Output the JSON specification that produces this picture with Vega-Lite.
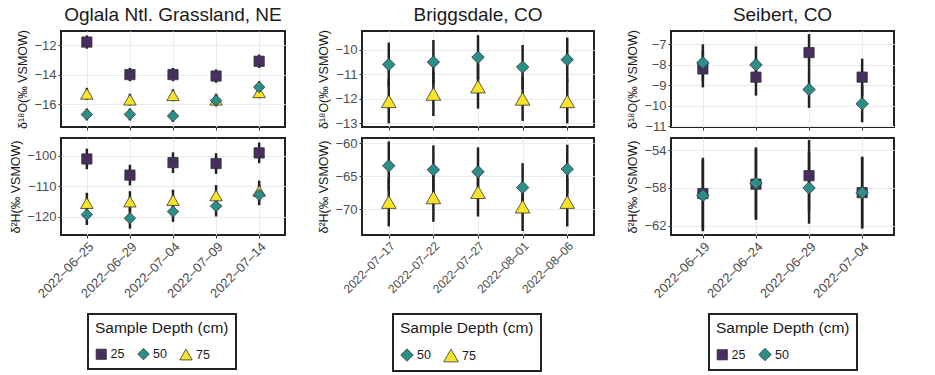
{
  "$schema": "https://vega.github.io/schema/vega-lite/v6.json",
  "padding": {"left": 8, "top": 5, "right": 5, "bottom": 0},
  "datasets": {
    "iso": [
      {"site": "Oglala", "iso": "O", "date": "2022-06-25", "depth": "25", "mean": -11.8, "sd": 0.45},
      {"site": "Oglala", "iso": "O", "date": "2022-06-29", "depth": "25", "mean": -14.0, "sd": 0.45},
      {"site": "Oglala", "iso": "O", "date": "2022-07-04", "depth": "25", "mean": -14.0, "sd": 0.45},
      {"site": "Oglala", "iso": "O", "date": "2022-07-09", "depth": "25", "mean": -14.1, "sd": 0.45},
      {"site": "Oglala", "iso": "O", "date": "2022-07-14", "depth": "25", "mean": -13.1, "sd": 0.45},
      {"site": "Oglala", "iso": "O", "date": "2022-06-25", "depth": "75", "mean": -15.3, "sd": 0.4},
      {"site": "Oglala", "iso": "O", "date": "2022-06-29", "depth": "75", "mean": -15.7, "sd": 0.4},
      {"site": "Oglala", "iso": "O", "date": "2022-07-04", "depth": "75", "mean": -15.4, "sd": 0.4},
      {"site": "Oglala", "iso": "O", "date": "2022-07-09", "depth": "75", "mean": -15.7, "sd": 0.4},
      {"site": "Oglala", "iso": "O", "date": "2022-07-14", "depth": "75", "mean": -15.2, "sd": 0.4},
      {"site": "Oglala", "iso": "O", "date": "2022-06-25", "depth": "50", "mean": -16.7, "sd": 0.4},
      {"site": "Oglala", "iso": "O", "date": "2022-06-29", "depth": "50", "mean": -16.7, "sd": 0.4},
      {"site": "Oglala", "iso": "O", "date": "2022-07-04", "depth": "50", "mean": -16.8, "sd": 0.4},
      {"site": "Oglala", "iso": "O", "date": "2022-07-09", "depth": "50", "mean": -15.75, "sd": 0.4},
      {"site": "Oglala", "iso": "O", "date": "2022-07-14", "depth": "50", "mean": -14.85, "sd": 0.4},
      {"site": "Oglala", "iso": "H", "date": "2022-06-25", "depth": "25", "mean": -101.0, "sd": 3.4},
      {"site": "Oglala", "iso": "H", "date": "2022-06-29", "depth": "25", "mean": -106.3, "sd": 3.4},
      {"site": "Oglala", "iso": "H", "date": "2022-07-04", "depth": "25", "mean": -102.2, "sd": 3.4},
      {"site": "Oglala", "iso": "H", "date": "2022-07-09", "depth": "25", "mean": -102.5, "sd": 3.4},
      {"site": "Oglala", "iso": "H", "date": "2022-07-14", "depth": "25", "mean": -99.0, "sd": 3.4},
      {"site": "Oglala", "iso": "H", "date": "2022-06-25", "depth": "75", "mean": -115.5, "sd": 3.4},
      {"site": "Oglala", "iso": "H", "date": "2022-06-29", "depth": "75", "mean": -115.0, "sd": 3.4},
      {"site": "Oglala", "iso": "H", "date": "2022-07-04", "depth": "75", "mean": -114.5, "sd": 3.4},
      {"site": "Oglala", "iso": "H", "date": "2022-07-09", "depth": "75", "mean": -113.0, "sd": 3.4},
      {"site": "Oglala", "iso": "H", "date": "2022-07-14", "depth": "75", "mean": -111.5, "sd": 3.4},
      {"site": "Oglala", "iso": "H", "date": "2022-06-25", "depth": "50", "mean": -119.3, "sd": 3.4},
      {"site": "Oglala", "iso": "H", "date": "2022-06-29", "depth": "50", "mean": -120.5, "sd": 3.4},
      {"site": "Oglala", "iso": "H", "date": "2022-07-04", "depth": "50", "mean": -118.3, "sd": 3.4},
      {"site": "Oglala", "iso": "H", "date": "2022-07-09", "depth": "50", "mean": -116.5, "sd": 3.4},
      {"site": "Oglala", "iso": "H", "date": "2022-07-14", "depth": "50", "mean": -112.8, "sd": 3.4},
      {"site": "Briggsdale", "iso": "O", "date": "2022-07-17", "depth": "75", "mean": -12.1, "sd": 0.9},
      {"site": "Briggsdale", "iso": "O", "date": "2022-07-22", "depth": "75", "mean": -11.8, "sd": 0.9},
      {"site": "Briggsdale", "iso": "O", "date": "2022-07-27", "depth": "75", "mean": -11.5, "sd": 0.9},
      {"site": "Briggsdale", "iso": "O", "date": "2022-08-01", "depth": "75", "mean": -12.0, "sd": 0.9},
      {"site": "Briggsdale", "iso": "O", "date": "2022-08-06", "depth": "75", "mean": -12.1, "sd": 0.9},
      {"site": "Briggsdale", "iso": "O", "date": "2022-07-17", "depth": "50", "mean": -10.6, "sd": 0.9},
      {"site": "Briggsdale", "iso": "O", "date": "2022-07-22", "depth": "50", "mean": -10.5, "sd": 0.9},
      {"site": "Briggsdale", "iso": "O", "date": "2022-07-27", "depth": "50", "mean": -10.3, "sd": 0.9},
      {"site": "Briggsdale", "iso": "O", "date": "2022-08-01", "depth": "50", "mean": -10.7, "sd": 0.9},
      {"site": "Briggsdale", "iso": "O", "date": "2022-08-06", "depth": "50", "mean": -10.4, "sd": 0.9},
      {"site": "Briggsdale", "iso": "H", "date": "2022-07-17", "depth": "75", "mean": -68.9, "sd": 3.7},
      {"site": "Briggsdale", "iso": "H", "date": "2022-07-22", "depth": "75", "mean": -68.2, "sd": 3.7},
      {"site": "Briggsdale", "iso": "H", "date": "2022-07-27", "depth": "75", "mean": -67.4, "sd": 3.7},
      {"site": "Briggsdale", "iso": "H", "date": "2022-08-01", "depth": "75", "mean": -69.6, "sd": 3.7},
      {"site": "Briggsdale", "iso": "H", "date": "2022-08-06", "depth": "75", "mean": -68.9, "sd": 3.7},
      {"site": "Briggsdale", "iso": "H", "date": "2022-07-17", "depth": "50", "mean": -63.4, "sd": 3.7},
      {"site": "Briggsdale", "iso": "H", "date": "2022-07-22", "depth": "50", "mean": -64.0, "sd": 3.7},
      {"site": "Briggsdale", "iso": "H", "date": "2022-07-27", "depth": "50", "mean": -64.3, "sd": 3.7},
      {"site": "Briggsdale", "iso": "H", "date": "2022-08-01", "depth": "50", "mean": -66.7, "sd": 3.7},
      {"site": "Briggsdale", "iso": "H", "date": "2022-08-06", "depth": "50", "mean": -63.9, "sd": 3.7},
      {"site": "Seibert", "iso": "O", "date": "2022-06-19", "depth": "25", "mean": -8.2, "sd": 0.9},
      {"site": "Seibert", "iso": "O", "date": "2022-06-24", "depth": "25", "mean": -8.6, "sd": 0.9},
      {"site": "Seibert", "iso": "O", "date": "2022-06-29", "depth": "25", "mean": -7.4, "sd": 0.9},
      {"site": "Seibert", "iso": "O", "date": "2022-07-04", "depth": "25", "mean": -8.6, "sd": 0.9},
      {"site": "Seibert", "iso": "O", "date": "2022-06-19", "depth": "50", "mean": -7.9, "sd": 0.9},
      {"site": "Seibert", "iso": "O", "date": "2022-06-24", "depth": "50", "mean": -8.0, "sd": 0.9},
      {"site": "Seibert", "iso": "O", "date": "2022-06-29", "depth": "50", "mean": -9.2, "sd": 0.9},
      {"site": "Seibert", "iso": "O", "date": "2022-07-04", "depth": "50", "mean": -9.9, "sd": 0.9},
      {"site": "Seibert", "iso": "H", "date": "2022-06-19", "depth": "25", "mean": -58.6, "sd": 3.8},
      {"site": "Seibert", "iso": "H", "date": "2022-06-24", "depth": "25", "mean": -57.6, "sd": 3.8},
      {"site": "Seibert", "iso": "H", "date": "2022-06-29", "depth": "25", "mean": -56.7, "sd": 3.8},
      {"site": "Seibert", "iso": "H", "date": "2022-07-04", "depth": "25", "mean": -58.5, "sd": 3.8},
      {"site": "Seibert", "iso": "H", "date": "2022-06-19", "depth": "50", "mean": -58.8, "sd": 3.8},
      {"site": "Seibert", "iso": "H", "date": "2022-06-24", "depth": "50", "mean": -57.5, "sd": 3.8},
      {"site": "Seibert", "iso": "H", "date": "2022-06-29", "depth": "50", "mean": -58.0, "sd": 3.8},
      {"site": "Seibert", "iso": "H", "date": "2022-07-04", "depth": "50", "mean": -58.5, "sd": 3.8}
    ]
  },
  "data": {"name": "iso"},
  "spacing": 1,
  "resolve": {"scale": {"color": "independent", "shape": "independent", "size": "independent"}, "legend": {"color": "independent", "shape": "independent", "size": "independent"}},
  "vconcat": [
    {
      "bounds": "flush",
      "spacing": 77,
      "resolve": {"scale": {"color": "independent", "shape": "independent", "size": "independent"}, "legend": {"color": "independent", "shape": "independent", "size": "independent"}},
      "hconcat": [
        {
          "width": 224, "height": 96,
          "title": "Oglala Ntl. Grassland, NE",
          "transform": [{"filter": "datum.site === 'Oglala' && datum.iso === 'O'"}],
          "encoding": {
            "x": {"field": "date", "type": "ordinal", "scale": {"type": "point", "padding": 0.6}, "axis": {"labels": false, "title": null, "grid": true}},
            "y": {"field": "mean", "type": "quantitative", "scale": {"domain": [-17.55, -11.05], "nice": false, "zero": false}, "axis": {"values": [-16, -14, -12], "labelOverlap": false, "title": "δ¹⁸O(‰ VSMOW)"}}
          },
          "layer": [
            {"mark": {"type": "errorbar", "thickness": 2.5, "color": "#222", "ticks": false}, "encoding": {"yError": {"field": "sd"}}},
            {"mark": {"type": "point", "filled": true, "stroke": "#333", "strokeWidth": 0.8, "opacity": 1},
             "encoding": {
               "color": {"field": "depth", "type": "nominal", "scale": {"domain": ["25", "50", "75"], "range": ["#482E5F", "#2C8E89", "#F9E328"]}, "legend": null},
               "shape": {"field": "depth", "type": "nominal", "scale": {"domain": ["25", "50", "75"], "range": ["square", "diamond", "triangle-up"]}, "legend": null},
               "size": {"field": "depth", "type": "nominal", "scale": {"domain": ["25", "50", "75"], "range": [105, 155, 215]}, "legend": null}}}
          ]
        },
        {
          "width": 232, "height": 96,
          "title": "Briggsdale, CO",
          "transform": [{"filter": "datum.site === 'Briggsdale' && datum.iso === 'O'"}],
          "encoding": {
            "x": {"field": "date", "type": "ordinal", "scale": {"type": "point", "padding": 0.6}, "axis": {"labels": false, "title": null, "grid": true}},
            "y": {"field": "mean", "type": "quantitative", "scale": {"domain": [-13.15, -9.23], "nice": false, "zero": false}, "axis": {"values": [-13, -12, -11, -10], "labelOverlap": false, "title": "δ¹⁸O(‰ VSMOW)"}}
          },
          "layer": [
            {"mark": {"type": "errorbar", "thickness": 2.5, "color": "#222", "ticks": false}, "encoding": {"yError": {"field": "sd"}}},
            {"mark": {"type": "point", "filled": true, "stroke": "#333", "strokeWidth": 0.8, "opacity": 1},
             "encoding": {
               "color": {"field": "depth", "type": "nominal", "scale": {"domain": ["50", "75"], "range": ["#2C8E89", "#F9E328"]}, "legend": null},
               "shape": {"field": "depth", "type": "nominal", "scale": {"domain": ["50", "75"], "range": ["diamond", "triangle-up"]}, "legend": null},
               "size": {"field": "depth", "type": "nominal", "scale": {"domain": ["50", "75"], "range": [155, 215]}, "legend": null}}}
          ]
        },
        {
          "width": 223, "height": 96,
          "title": "Seibert, CO",
          "transform": [{"filter": "datum.site === 'Seibert' && datum.iso === 'O'"}],
          "encoding": {
            "x": {"field": "date", "type": "ordinal", "scale": {"type": "point", "padding": 0.6}, "axis": {"labels": false, "title": null, "grid": true}},
            "y": {"field": "mean", "type": "quantitative", "scale": {"domain": [-11.03, -6.35], "nice": false, "zero": false}, "axis": {"values": [-11, -10, -9, -8, -7], "labelOverlap": false, "title": "δ¹⁸O(‰ VSMOW)"}}
          },
          "layer": [
            {"mark": {"type": "errorbar", "thickness": 2.5, "color": "#222", "ticks": false}, "encoding": {"yError": {"field": "sd"}}},
            {"mark": {"type": "point", "filled": true, "stroke": "#333", "strokeWidth": 0.8, "opacity": 1},
             "encoding": {
               "color": {"field": "depth", "type": "nominal", "scale": {"domain": ["25", "50"], "range": ["#482E5F", "#2C8E89"]}, "legend": null},
               "shape": {"field": "depth", "type": "nominal", "scale": {"domain": ["25", "50"], "range": ["square", "diamond"]}, "legend": null},
               "size": {"field": "depth", "type": "nominal", "scale": {"domain": ["25", "50"], "range": [105, 155]}, "legend": null}}}
          ]
        }
      ]
    },
    {
      "bounds": "flush",
      "spacing": 77,
      "resolve": {"scale": {"color": "independent", "shape": "independent", "size": "independent"}, "legend": {"color": "independent", "shape": "independent", "size": "independent"}},
      "hconcat": [
        {
          "width": 224, "height": 97,
          "transform": [{"filter": "datum.site === 'Oglala' && datum.iso === 'H'"}],
          "encoding": {
            "x": {"field": "date", "type": "ordinal", "scale": {"type": "point", "padding": 0.6}, "axis": {"title": null, "grid": true, "labelAngle": -45, "labelAlign": "right", "labelBaseline": "top", "labelFontSize": 13, "labelExpr": "replace(replace(datum.label, '-', '–'), '-', '–')"}},
            "y": {"field": "mean", "type": "quantitative", "scale": {"domain": [-126, -94.1], "nice": false, "zero": false}, "axis": {"values": [-120, -110, -100], "labelOverlap": false, "title": "δ²H(‰ VSMOW)"}}
          },
          "layer": [
            {"mark": {"type": "errorbar", "thickness": 2.5, "color": "#222", "ticks": false}, "encoding": {"yError": {"field": "sd"}}},
            {"mark": {"type": "point", "filled": true, "stroke": "#333", "strokeWidth": 0.8, "opacity": 1},
             "encoding": {
               "color": {"field": "depth", "type": "nominal", "scale": {"domain": ["25", "50", "75"], "range": ["#482E5F", "#2C8E89", "#F9E328"]}, "legend": {"title": "Sample Depth (cm)", "legendX": 27, "legendY": 176}},
               "shape": {"field": "depth", "type": "nominal", "scale": {"domain": ["25", "50", "75"], "range": ["square", "diamond", "triangle-up"]}, "legend": {"title": "Sample Depth (cm)", "legendX": 27, "legendY": 176}},
               "size": {"field": "depth", "type": "nominal", "scale": {"domain": ["25", "50", "75"], "range": [105, 155, 215]}, "legend": {"title": "Sample Depth (cm)", "legendX": 27, "legendY": 176}}}}
          ]
        },
        {
          "width": 232, "height": 97,
          "transform": [{"filter": "datum.site === 'Briggsdale' && datum.iso === 'H'"}],
          "encoding": {
            "x": {"field": "date", "type": "ordinal", "scale": {"type": "point", "padding": 0.6}, "axis": {"title": null, "grid": true, "labelAngle": -45, "labelAlign": "right", "labelBaseline": "top", "labelFontSize": 12, "labelExpr": "replace(replace(datum.label, '-', '–'), '-', '–')"}},
            "y": {"field": "mean", "type": "quantitative", "scale": {"domain": [-73.9, -59.18], "nice": false, "zero": false}, "axis": {"values": [-70, -65, -60], "labelOverlap": false, "title": "δ²H(‰ VSMOW)"}}
          },
          "layer": [
            {"mark": {"type": "errorbar", "thickness": 2.5, "color": "#222", "ticks": false}, "encoding": {"yError": {"field": "sd"}}},
            {"mark": {"type": "point", "filled": true, "stroke": "#333", "strokeWidth": 0.8, "opacity": 1},
             "encoding": {
               "color": {"field": "depth", "type": "nominal", "scale": {"domain": ["50", "75"], "range": ["#2C8E89", "#F9E328"]}, "legend": {"title": "Sample Depth (cm)", "legendX": 31, "legendY": 176}},
               "shape": {"field": "depth", "type": "nominal", "scale": {"domain": ["50", "75"], "range": ["diamond", "triangle-up"]}, "legend": {"title": "Sample Depth (cm)", "legendX": 31, "legendY": 176}},
               "size": {"field": "depth", "type": "nominal", "scale": {"domain": ["50", "75"], "range": [155, 215]}, "legend": {"title": "Sample Depth (cm)", "legendX": 31, "legendY": 176}}}}
          ]
        },
        {
          "width": 223, "height": 97,
          "transform": [{"filter": "datum.site === 'Seibert' && datum.iso === 'H'"}],
          "encoding": {
            "x": {"field": "date", "type": "ordinal", "scale": {"type": "point", "padding": 0.6}, "axis": {"title": null, "grid": true, "labelAngle": -45, "labelAlign": "right", "labelBaseline": "top", "labelFontSize": 13, "labelExpr": "replace(replace(datum.label, '-', '–'), '-', '–')"}},
            "y": {"field": "mean", "type": "quantitative", "scale": {"domain": [-63.0, -52.7], "nice": false, "zero": false}, "axis": {"values": [-62, -58, -54], "labelOverlap": false, "title": "δ²H(‰ VSMOW)"}}
          },
          "layer": [
            {"mark": {"type": "errorbar", "thickness": 2.5, "color": "#222", "ticks": false}, "encoding": {"yError": {"field": "sd"}}},
            {"mark": {"type": "point", "filled": true, "stroke": "#333", "strokeWidth": 0.8, "opacity": 1},
             "encoding": {
               "color": {"field": "depth", "type": "nominal", "scale": {"domain": ["25", "50"], "range": ["#482E5F", "#2C8E89"]}, "legend": {"title": "Sample Depth (cm)", "legendX": 38, "legendY": 176}},
               "shape": {"field": "depth", "type": "nominal", "scale": {"domain": ["25", "50"], "range": ["square", "diamond"]}, "legend": {"title": "Sample Depth (cm)", "legendX": 38, "legendY": 176}},
               "size": {"field": "depth", "type": "nominal", "scale": {"domain": ["25", "50"], "range": [105, 155]}, "legend": {"title": "Sample Depth (cm)", "legendX": 38, "legendY": 176}}}}
          ]
        }
      ]
    }
  ],
  "config": {
    "font": "Liberation Sans",
    "view": {"stroke": "#222", "strokeWidth": 2},
    "axis": {"domain": false, "labelOverlap": false, "gridColor": "#EBEBEB", "gridWidth": 1.2, "tickColor": "#333", "tickSize": 3, "tickWidth": 1, "labelColor": "#4D4D4D", "labelFont": "Liberation Sans", "labelFontSize": 13, "labelPadding": 2, "titleFont": "Liberation Sans", "titleFontSize": 12.5, "titleFontWeight": "normal", "titleColor": "#1a1a1a", "titlePadding": 4},
    "axisY": {"labelOverlap": false},
    "legend": {"orient": "none", "direction": "horizontal", "strokeColor": "#222", "strokeWidth": 2, "padding": 7, "titleFont": "Liberation Sans", "titleFontSize": 15.5, "titleFontWeight": "normal", "titleColor": "#1a1a1a", "titlePadding": 11, "labelFont": "Liberation Sans", "labelFontSize": 12.5, "labelColor": "#1a1a1a", "symbolStrokeColor": "#333", "symbolStrokeWidth": 0.8, "columnPadding": 11, "labelOffset": 3},
    "title": {"font": "Liberation Sans", "fontSize": 19, "fontWeight": "normal", "color": "#1a1a1a", "anchor": "middle", "frame": "group", "offset": 0}
  }
}
